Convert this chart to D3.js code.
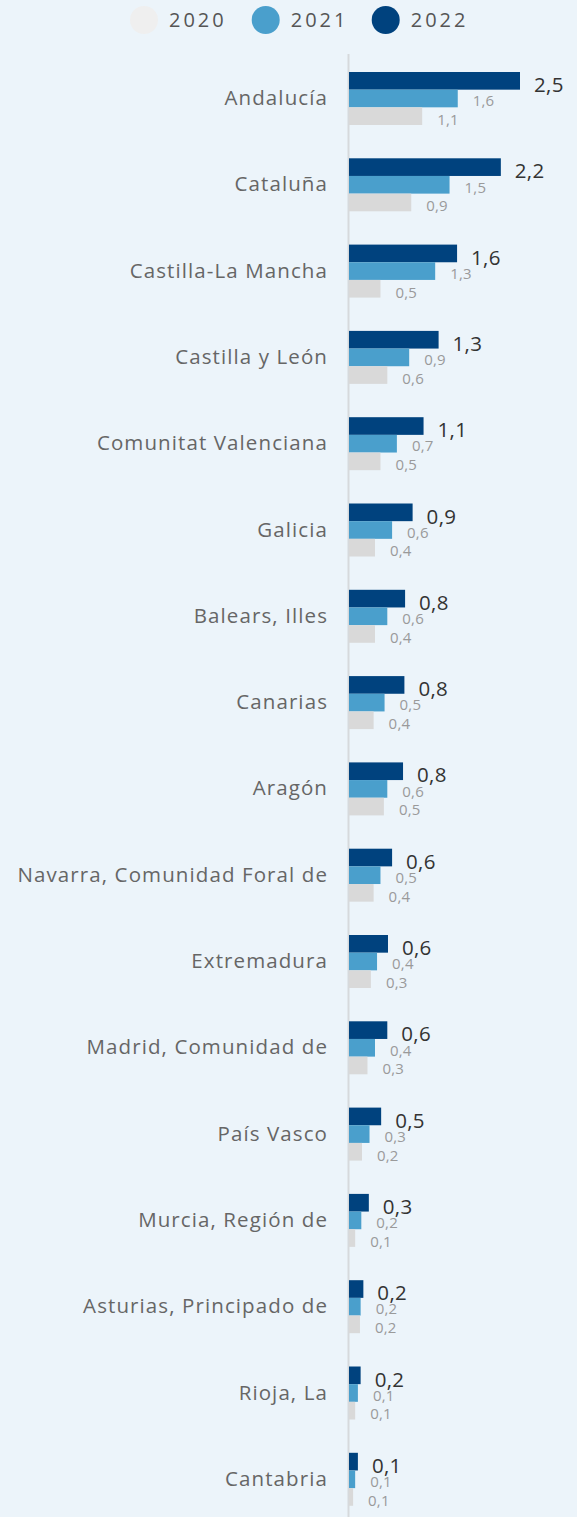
<!DOCTYPE html>
<html>
<head>
<meta charset="utf-8">
<script src="https://cdn.jsdelivr.net/npm/d3@7"></script>
<style>
  html, body { margin: 0; padding: 0; background: #ecf4fa; }
  svg { display: block; }
  text { font-family: "Open Sans", Lato, sans-serif; }
</style>
</head>
<body>
<div id="chart"></div>
<script>
const categories = [
  "Andalucía", "Cataluña", "Castilla-La Mancha", "Castilla y León",
  "Comunitat Valenciana", "Galicia", "Balears, Illes", "Canarias", "Aragón",
  "Navarra, Comunidad Foral de", "Extremadura", "Madrid, Comunidad de",
  "País Vasco", "Murcia, Región de", "Asturias, Principado de", "Rioja, La", "Cantabria"
];
const seriesNames = ["2020", "2021", "2022"];
const values2022 = [2.5, 2.22, 1.58, 1.31, 1.09, 0.93, 0.82, 0.81, 0.79, 0.63, 0.57, 0.56, 0.47, 0.29, 0.21, 0.17, 0.13];
const values2021 = [1.59, 1.47, 1.26, 0.88, 0.70, 0.63, 0.56, 0.52, 0.56, 0.46, 0.41, 0.38, 0.30, 0.18, 0.17, 0.13, 0.09];
const values2020 = [1.07, 0.91, 0.46, 0.56, 0.46, 0.38, 0.38, 0.36, 0.51, 0.36, 0.32, 0.27, 0.19, 0.09, 0.16, 0.09, 0.06];
const colors = { "2020": "#d9d9d9", "2021": "#4a9fcc", "2022": "#00427e" };
const legendColors = { "2020": "#efefef", "2021": "#4a9fcc", "2022": "#00427e" };

const W = 577, H = 1517;
const svg = d3.select("#chart").append("svg").attr("width", W).attr("height", H);

const data = categories.map((c, i) => ({
  cat: c,
  vals: [
    { s: "2022", v: values2022[i] },
    { s: "2021", v: values2021[i] },
    { s: "2020", v: values2020[i] }
  ]
}));

const x = d3.scaleLinear().domain([0, 2.5]).range([349, 520]);
const step = 86.3;
const y = d3.scaleBand().domain(categories)
  .range([72 - 0.193 * step, 72 - 0.193 * step + step * (categories.length - 0.386 + 2 * 0.193)])
  .paddingInner(0.386).paddingOuter(0.193);
const ySub = d3.scaleBand().domain(["2022", "2021", "2020"]).range([0, y.bandwidth()]);

const fmt = d3.formatLocale({ decimal: ",", thousands: ".", grouping: [3], currency: ["", "€"] }).format(".1f");

// axis with category labels
const axis = d3.axisLeft(y).tickSize(0).tickPadding(20.5);
const gAxis = svg.append("g").attr("transform", "translate(348.5,0)").call(axis);
gAxis.select(".domain").attr("stroke", "#d6d9dc").attr("stroke-width", 2).attr("d", `M0,54V${H}`);
gAxis.selectAll("text")
  .attr("font-size", 20.5)
  .attr("letter-spacing", "1.1px")
  .attr("fill", "#666")
  .attr("font-family", "'Open Sans', sans-serif");

const groups = svg.append("g").selectAll("g").data(data).join("g")
  .attr("transform", d => `translate(0,${y(d.cat)})`);

groups.selectAll("rect").data(d => d.vals).join("rect")
  .attr("x", x(0))
  .attr("y", d => ySub(d.s))
  .attr("width", d => x(d.v) - x(0))
  .attr("height", ySub.bandwidth())
  .attr("fill", d => colors[d.s]);

const labelShift = { "2022": 4, "2021": 2.5, "2020": 3.5 };
groups.selectAll("text.val").data(d => d.vals).join("text")
  .attr("class", "val")
  .attr("x", d => x(d.v) + (d.s === "2022" ? 14 : 15))
  .attr("y", d => ySub(d.s) + ySub.bandwidth() / 2 + labelShift[d.s])
  .attr("dy", "0.35em")
  .attr("font-size", d => d.s === "2022" ? 20.5 : 15)
  .attr("letter-spacing", d => d.s === "2022" ? "0.3px" : "0.2px")
  .attr("fill", d => d.s === "2022" ? "#333" : "#9a9a9a")
  .text(d => fmt(d.v));

// legend
const legendX = [144, 265.7, 385.7];
const leg = svg.append("g").selectAll("g").data(seriesNames).join("g")
  .attr("transform", (d, i) => `translate(${legendX[i]},20)`);
leg.append("circle").attr("r", 14).attr("fill", d => legendColors[d]);
leg.append("text").attr("x", 25).attr("dy", "0.35em").attr("font-size", 20)
  .attr("letter-spacing", "3px")
  .attr("fill", "#555").text(d => d);
</script>
</body>
</html>
